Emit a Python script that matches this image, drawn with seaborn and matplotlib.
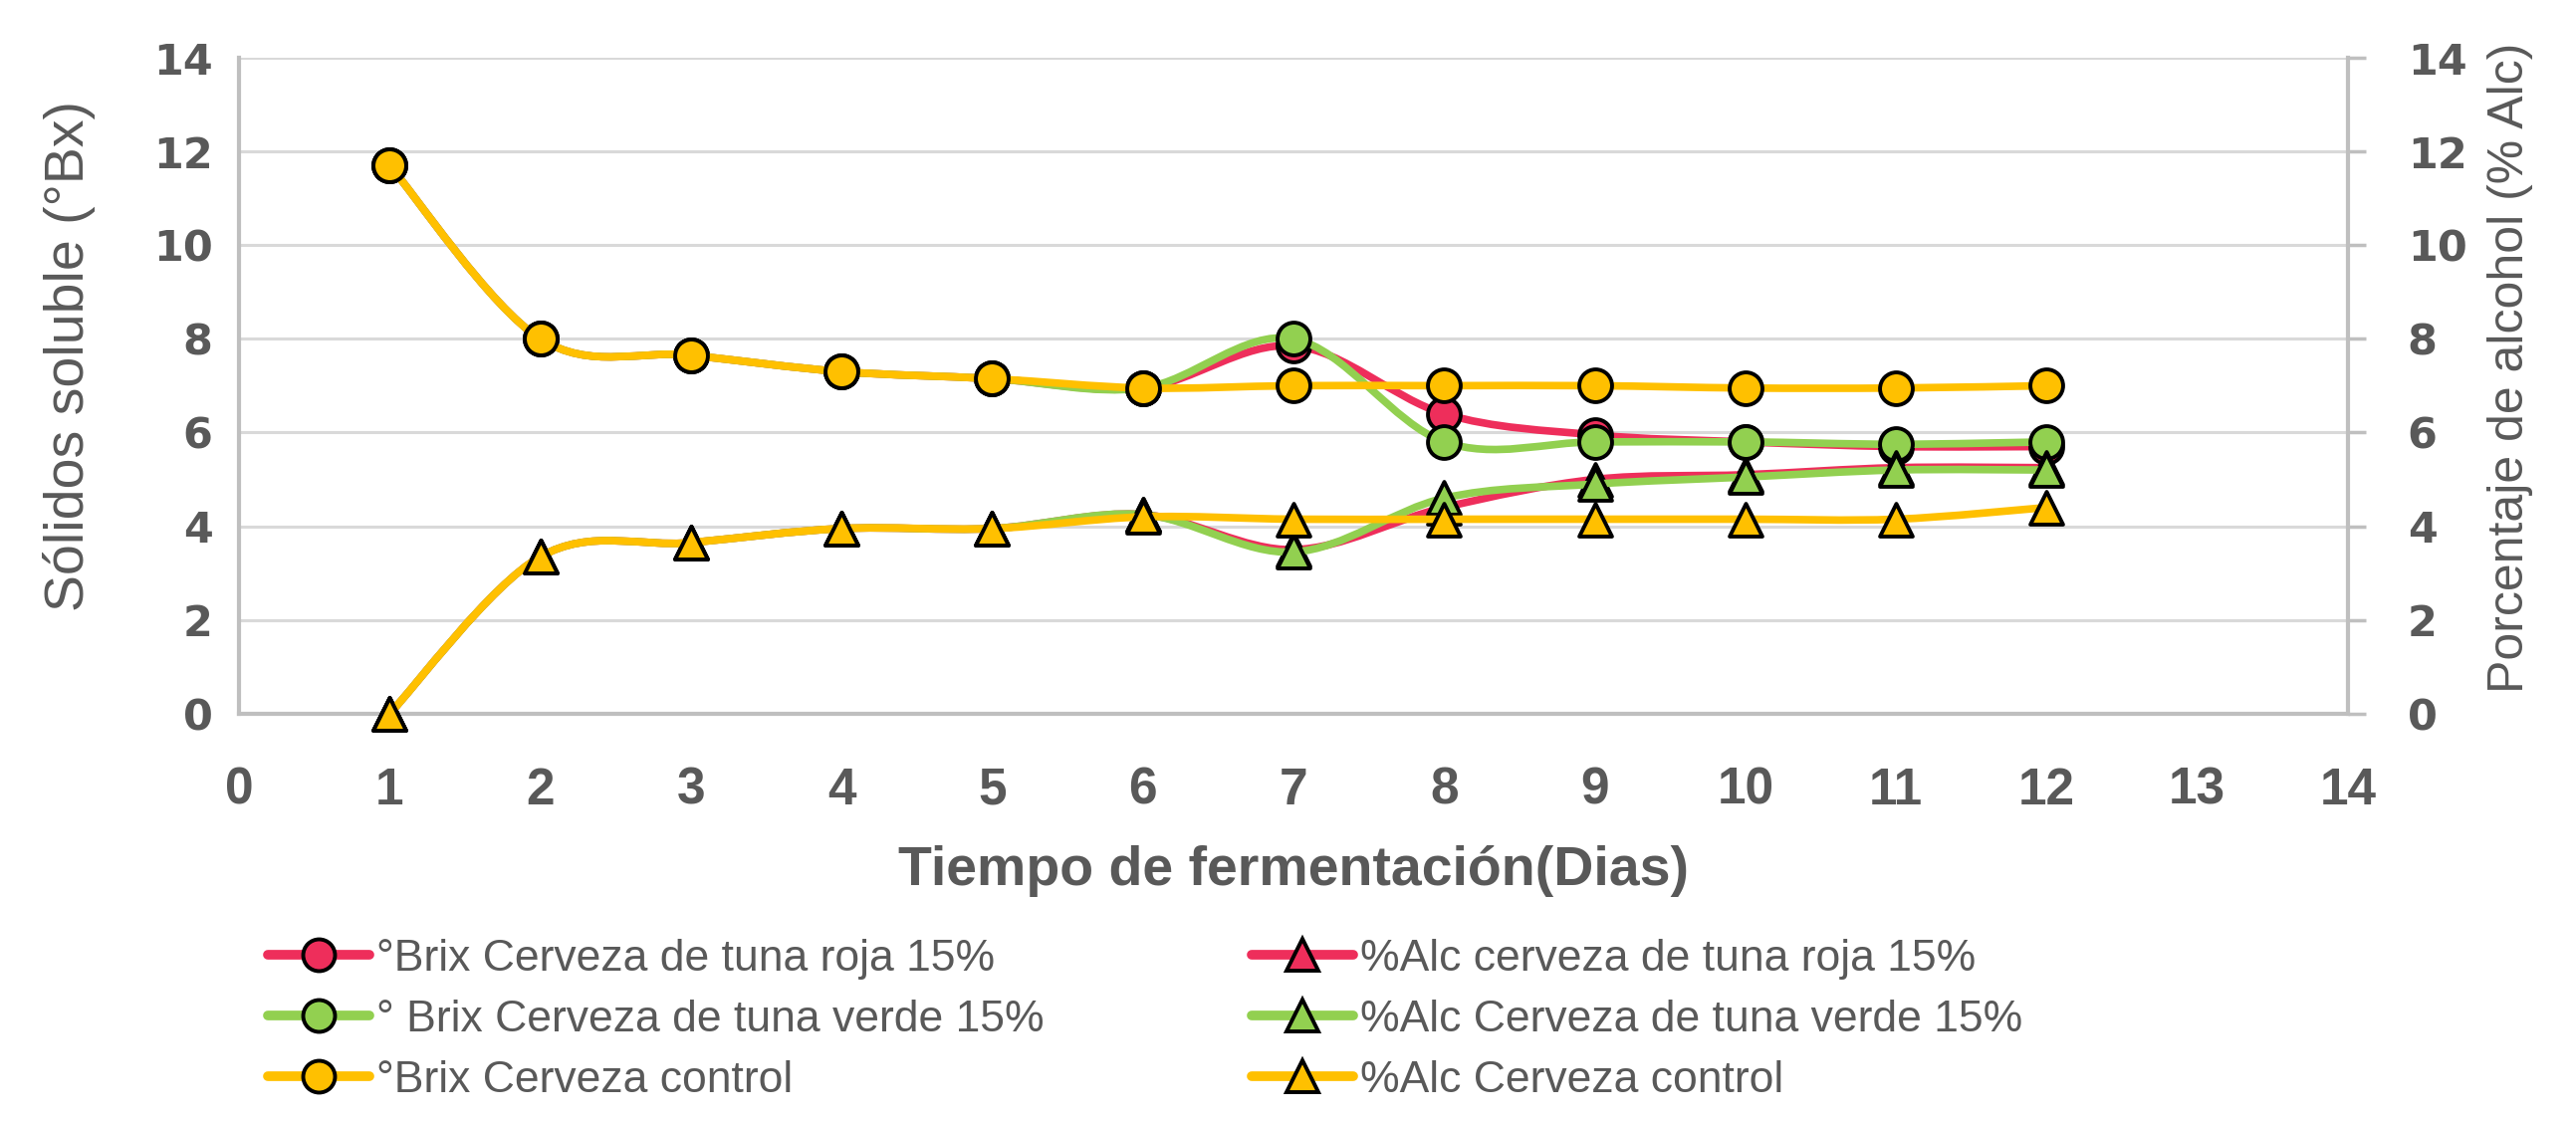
import numpy as np
import seaborn as sns
import matplotlib.pyplot as plt
from matplotlib.path import Path
from matplotlib.patches import PathPatch
from matplotlib.lines import Line2D

# days of fermentation
dias = [1, 2, 3, 4, 5, 6, 7, 8, 9, 10, 11, 12]

# soluble solids (°Bx), left axis
brix_roja = [11.7, 8.0, 7.65, 7.3, 7.15, 6.95, 7.85, 6.4, 5.95, 5.8, 5.7, 5.7]
brix_verde = [11.7, 8.0, 7.65, 7.3, 7.15, 6.95, 8.0, 5.8, 5.8, 5.8, 5.75, 5.8]
brix_control = [11.7, 8.0, 7.65, 7.3, 7.15, 6.95, 7.0, 7.0, 7.0, 6.95, 6.95, 7.0]

# alcohol (% Alc), right axis
alc_roja = [0.0, 3.35, 3.65, 3.95, 3.95, 4.25, 3.5, 4.4, 5.0, 5.1, 5.25, 5.25]
alc_verde = [0.0, 3.35, 3.65, 3.95, 3.95, 4.25, 3.45, 4.6, 4.9, 5.05, 5.2, 5.2]
alc_control = [0.0, 3.35, 3.65, 3.95, 3.95, 4.2, 4.15, 4.15, 4.15, 4.15, 4.15, 4.4]

labels_brix = ['°Brix Cerveza de tuna roja 15%', '° Brix Cerveza de tuna verde 15%', '°Brix Cerveza control']
labels_alc = ['%Alc cerveza de tuna roja 15%', '%Alc Cerveza de tuna verde 15%', '%Alc Cerveza control']
colors = ['#EE2E5B', '#92D050', '#FFC000']

GRAY = '#595959'
NARROW = ['Liberation Sans Narrow', 'Liberation Sans', 'DejaVu Sans']

sns.set_style('white')
plt.rcParams['font.family'] = ['DejaVu Sans']


def smooth_path(x, y):
    # excel style smoothed line (bezier through the points)
    pts = np.column_stack([x, y]).astype(float)
    n = len(pts)
    verts = [pts[0]]
    codes = [Path.MOVETO]
    for i in range(n - 1):
        p0 = pts[i - 1] if i > 0 else pts[i]
        p1 = pts[i]
        p2 = pts[i + 1]
        p3 = pts[i + 2] if i + 2 < n else pts[i + 1]
        verts += [p1 + (p2 - p0) / 6, p2 - (p3 - p1) / 6, p2]
        codes += [Path.CURVE4] * 3
    return Path(verts, codes)


def draw_series(ax, y, color, marker, z):
    ax.add_patch(PathPatch(smooth_path(dias, y), fill=False, edgecolor=color,
                           lw=5.5, zorder=z, capstyle='round'))
    sns.scatterplot(x=dias, y=y, marker=marker, s=560, color=color, edgecolor='black',
                    linewidth=2.8, ax=ax, zorder=z + 0.5, clip_on=False, legend=False)


fig, ax = plt.subplots(figsize=(25.87, 11.27), dpi=100)
fig.subplots_adjust(left=0.0928, right=0.9115, bottom=0.364, top=0.9485)
ax2 = ax.twinx()

for i, y in enumerate([brix_roja, brix_verde, brix_control]):
    draw_series(ax, y, colors[i], 'o', 3 + i)
for i, y in enumerate([alc_roja, alc_verde, alc_control]):
    draw_series(ax2, y, colors[i], '^', 3 + i)

for a in (ax, ax2):
    a.set_xlim(0, 14)
    a.set_ylim(0, 14)
    a.set_yticks(range(0, 15, 2))
    for s in a.spines.values():
        s.set_visible(False)

ax.set_xticks(range(0, 15))
ax.yaxis.grid(True, color='#D9D9D9', lw=2.2)
ax.set_axisbelow(True)
ax.spines['left'].set_visible(True)
ax.spines['bottom'].set_visible(True)
ax2.spines['right'].set_visible(True)
for s in [ax.spines['left'], ax.spines['bottom'], ax2.spines['right']]:
    s.set_color('#BFBFBF')
    s.set_linewidth(3)

ax.tick_params(axis='both', length=0)
ax.tick_params(axis='y', pad=19)
ax.tick_params(axis='x', pad=38)
ax2.tick_params(axis='y', length=13, width=2.5, color='#BFBFBF', pad=30)

for t in ax.get_yticklabels() + ax2.get_yticklabels():
    t.set_fontsize(31)
    t.set_fontweight('bold')
    t.set_color(GRAY)
for t in ax.get_xticklabels():
    t.set_family(NARROW)
    t.set_fontsize(37)
    t.set_fontweight('bold')
    t.set_color(GRAY)

ax.set_xlabel('Tiempo de fermentación(Dias)', family=NARROW, fontsize=40,
              fontweight='bold', color=GRAY, labelpad=22)
ax.set_ylabel('Sólidos soluble (°Bx)', family=NARROW, fontsize=40, color=GRAY)
ax.yaxis.set_label_coords(-0.068, 0.545)
ax2.set_ylabel('Porcentaje de alcohol (% Alc)', family=NARROW, fontsize=36, color=GRAY,
               rotation=90)
ax2.yaxis.set_label_coords(1.066, 0.528)


def handles(marker):
    return [Line2D([0], [0], color=c, lw=7, marker=marker, markersize=23,
                   markerfacecolor=c, markeredgecolor='black', markeredgewidth=2.8)
            for c in colors]


leg_kw = dict(frameon=False, prop={'family': NARROW, 'size': 32}, labelcolor=GRAY,
              handlelength=2.3, handletextpad=0.15, labelspacing=0.45, borderaxespad=0)
fig.legend(handles('o'), labels_brix, loc='upper left',
           bbox_to_anchor=(0.097, 0.179), **leg_kw)
fig.legend(handles('^'), labels_alc, loc='upper left',
           bbox_to_anchor=(0.479, 0.179), **leg_kw)

plt.savefig('out.png', dpi=100)
